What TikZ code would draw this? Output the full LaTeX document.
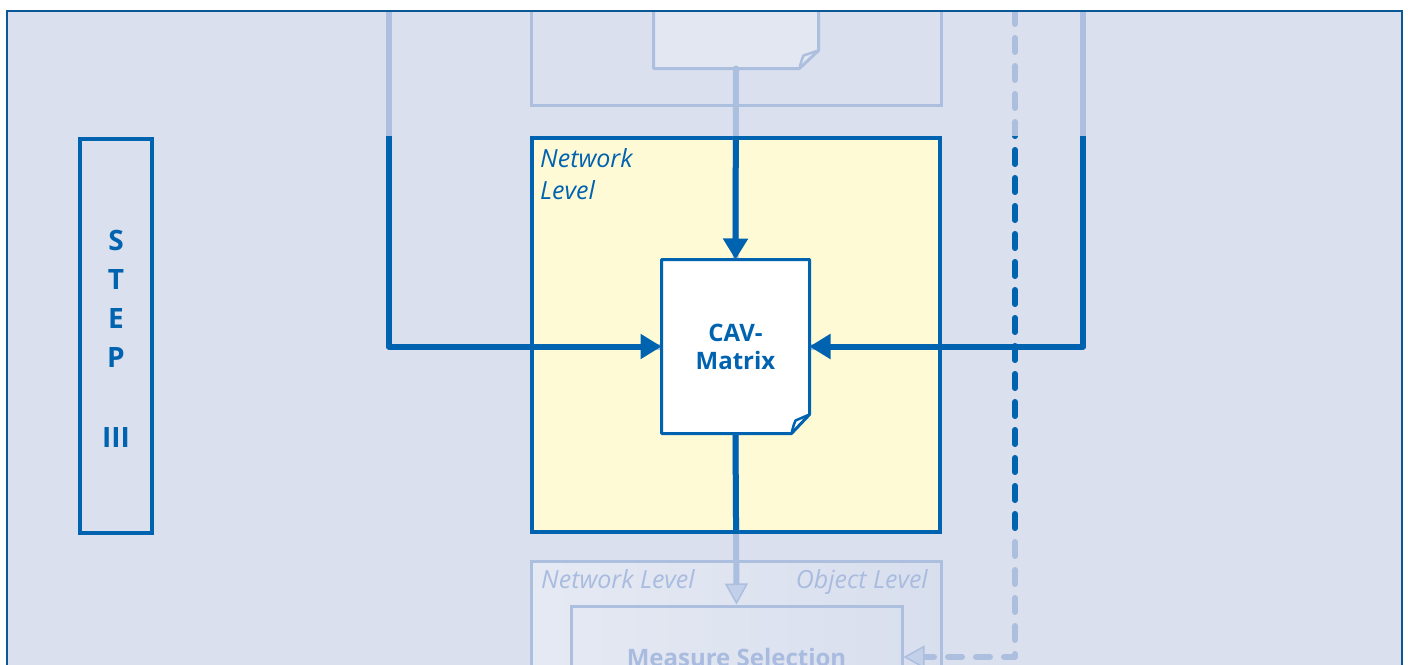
\documentclass[tikz,border=0pt]{standalone}
\usepackage{fontspec}
\setmainfont{Open Sans}
\usetikzlibrary{arrows.meta,calc}
\definecolor{bgc}{HTML}{DAE0EE}
\definecolor{framec}{HTML}{0A5895}
\definecolor{dkblue}{HTML}{0063AF}
\definecolor{ltblue}{HTML}{ADBFDF}
\definecolor{lttext}{HTML}{A9BCE0}
\definecolor{yel}{HTML}{FFFAD6}
\definecolor{docfill}{HTML}{E2E7F2}
\definecolor{tipfill}{HTML}{C3D0E9}
\begin{document}
\begin{tikzpicture}[x=1pt,y=-1pt,
  stepbox/.style={draw=dkblue,line width=4pt,minimum width=72.5pt,minimum height=393.5pt,inner sep=0pt},
  stepfont/.style={font=\fontsize{28}{39}\selectfont\bfseries,text=dkblue,align=center},
  levelbox/.style={draw=dkblue,fill=yel,line width=4pt,inner sep=0pt},
  fadebox/.style={draw=ltblue,line width=3pt,inner sep=0pt},
  docbody/.style={inner sep=0pt,outer sep=1.5pt},
  darkline/.style={draw=dkblue,line width=6pt,line join=round},
  lightline/.style={draw=ltblue,line width=6pt,line join=round},
  darktip/.style={-{Triangle[length=21pt,width=24pt]}},
  lighttip/.style={-{Triangle[length=21pt,width=23pt,line width=1.5pt,fill=tipfill]}},
  dashline/.style={dash pattern=on 14pt off 14pt,line cap=round},
  lbl/.style={font=\fontsize{25}{32}\selectfont\itshape,inner sep=0pt,align=left}
]
\useasboundingbox (0,0) rectangle (1408,664);
\fill[white] (0,0) rectangle (1408,664);
\fill[bgc] (7,11) rectangle (1402,690);
\begin{scope}
\clip (8,12) rectangle (1401,664);
% faded upper box
\node[fadebox,minimum width=410pt,minimum height=125pt] (upbox) at (736,42.5) {};
% faded upper document
\node[docbody,minimum width=162pt,minimum height=77pt] (updoc) at (736,28.5) {};
\fill[docfill] (updoc.north west) -- (updoc.north east) -- ($(updoc.south east)+(0,-18)$) -- ($(updoc.south east)+(-19,0)$) -- (updoc.south west) -- cycle;
\draw[ltblue,line width=3pt,line join=round] (updoc.north west) -- (updoc.south west) -- ($(updoc.south east)+(-19,0)$) -- ($(updoc.south east)+(0,-18)$) -- (updoc.north east);
\draw[ltblue,line width=2.5pt,line join=round] ($(updoc.south east)+(-19,0)$) .. controls ($(updoc.south east)+(-17,-8)$) .. ($(updoc.south east)+(-15,-13)$) -- ($(updoc.south east)+(0,-18)$);
% faded lower box
\node[fadebox,left color=docfill!90!white,right color=bgc!95!ltblue,minimum width=410pt,minimum height=200pt] (lowbox) at (736,661) {};
\node[lbl,text=lttext,anchor=north west] (lownet) at (541,569) {Network Level};
\node[lbl,text=lttext,anchor=north east] (lowobj) at (928,569) {Object Level};
\node[fadebox,minimum width=331pt,minimum height=102pt,font=\fontsize{24}{28}\selectfont\bfseries,text=lttext] (msel) at (736.5,657) {Measure Selection};
% STEP box
\node[stepbox] (step) at (116,336) {};
\node[stepfont] (steptxt) at (116,339) {S\\T\\E\\P\\[41pt]III};
% network level box
\node[levelbox,minimum width=408pt,minimum height=393.5pt] (net) at (736,334.75) {};
\node[lbl,text=dkblue,anchor=north west] (netlbl) at (540,148) {Network\\Level};
% CAV matrix document
\node[docbody,minimum width=145pt,minimum height=171pt] (cav) at (735.5,346.5) {};
% connector end points
\coordinate (ltop) at (389,0);
\coordinate (rtop) at (1083,0);
\coordinate (dtop) at (1015,10);
% light connectors
\draw[lightline,line cap=round] (updoc.south) -- (cav.north);
\draw[lightline] (ltop) |- (cav.west);
\draw[lightline] (rtop) |- (cav.east);
\draw[lightline,lighttip] (cav.south) -- (msel.north);
\draw[lightline,dashline,lighttip] (dtop) |- (msel.east);
% dark (highlighted) part of connectors
\begin{scope}
\clip (0,136) rectangle (1408,533);
\draw[darkline,darktip] (updoc.south) -- (cav.north);
\draw[darkline,darktip] (ltop) |- (cav.west);
\draw[darkline,darktip] (rtop) |- (cav.east);
\draw[darkline] (cav.south) -- (msel.north);
\draw[darkline,dashline] (dtop) |- (msel.east);
\end{scope}
% CAV document body
\filldraw[fill=white,draw=dkblue,line width=3pt,line join=round] (cav.north west) -- (cav.north east) -- ($(cav.south east)+(0,-19)$) -- ($(cav.south east)+(-18,0)$) -- (cav.south west) -- cycle;
\draw[dkblue,line width=2.5pt,line join=round] ($(cav.south east)+(-18,0)$) .. controls ($(cav.south east)+(-16,-8)$) .. ($(cav.south east)+(-14,-13)$) -- ($(cav.south east)+(0,-19)$);
\node[font=\fontsize{24}{28}\selectfont\bfseries,text=dkblue,align=center] (cavtxt) at (cav.center) {CAV-\\Matrix};
\end{scope}
\draw[framec,line width=2pt] (7,690) -- (7,11) -- (1402,11) -- (1402,690);
\end{tikzpicture}
\end{document}
